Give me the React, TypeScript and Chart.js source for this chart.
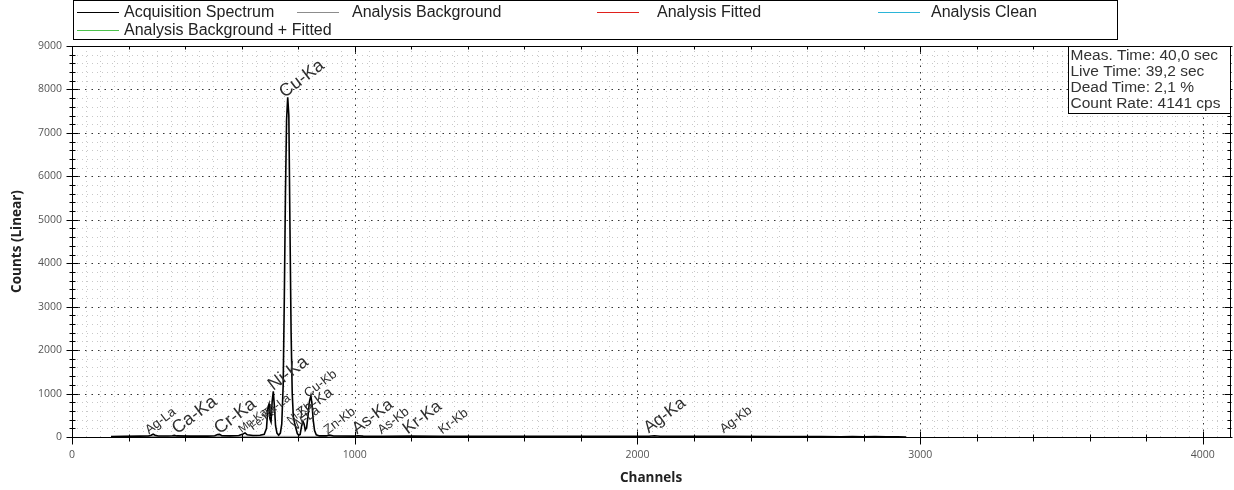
import React, { useEffect, useRef } from 'react';
import { Chart, registerables } from 'chart.js';

Chart.register(...registerables);

// ---- data ----
const spectrumChannels = [
  138, 180, 240, 270, 280, 287, 294, 305, 340, 355, 362, 370, 420, 480, 505, 515, 522, 530,
  560, 590, 605, 612, 620, 640, 665, 680, 688, 693, 697, 700, 704, 708, 712, 716, 720, 725,
  731, 737, 742, 747, 751, 755, 759, 763, 767, 771, 775, 779, 783, 787, 792, 797, 802, 807,
  812, 817, 821, 825, 830, 835, 840, 845, 849, 853, 858, 864, 875, 900, 908, 915, 925, 1000,
  1012, 1030, 1100, 1200, 1300, 1500, 1800, 2040, 2060, 2080, 2300, 2500, 2650, 2720, 2760,
  2800, 2840, 2880, 2920, 2950,
];
const spectrumCounts = [
  12, 18, 20, 22, 40, 65, 40, 22, 22, 30, 38, 25, 20, 20, 28, 55, 60, 30,
  25, 35, 70, 95, 50, 35, 40, 60, 200, 680, 760, 420, 350, 820, 1050, 700, 260, 90,
  40, 90, 300, 1200, 3200, 5600, 7300, 7820, 7400, 4800, 2400, 1000, 450, 330, 200, 80, 40, 60,
  250, 360, 300, 160, 220, 500, 820, 950, 760, 400, 150, 50, 25, 25, 45, 40, 22, 20,
  28, 20, 18, 20, 16, 15, 14, 18, 30, 18, 14, 12, 10, 6, 10,
  4, 8, 3, 6, 0,
];
const backgroundChannels = [138, 400, 700, 900, 1500, 2200, 2900];
const backgroundCounts = [10, 14, 16, 12, 9, 6, 3];

const peakNames = [
  'Ag-La', 'Ca-Ka', 'Cr-Ka', 'Mn-Ka', 'Fe-Kb', 'Ta-La', 'Ni-Ka', 'Cu-Ka', 'Ni-Kb', 'W-La',
  'Zn-Ka', 'Cu-Kb', 'Zn-Kb', 'As-Ka', 'As-Kb', 'Kr-Ka', 'Kr-Kb', 'Ag-Ka', 'Ag-Kb',
];
const peakChannels = [
  272, 372, 522, 600, 640, 690, 712, 752, 772, 792,
  810, 835, 905, 1008, 1095, 1188, 1310, 2040, 2305,
];
const peakLabelCounts = [
  60, 60, 60, 90, 150, 450, 1060, 7800, 300, 150,
  420, 900, 60, 60, 60, 60, 60, 80, 80,
];
const peakFontSizes = [
  13, 18, 18, 11, 11, 12, 18, 18, 11, 13,
  15, 13, 13, 17, 13, 17, 13, 17, 13,
];

const xTickValues = [0, 1000, 2000, 3000, 4000];
const yTickValues = [0, 1000, 2000, 3000, 4000, 5000, 6000, 7000, 8000, 9000];

const infoLines = ['Meas. Time: 40,0 sec', 'Live Time: 39,2 sec', 'Dead Time: 2,1 %', 'Count Rate: 4141 cps'];

const seriesLabels = [
  'Acquisition Spectrum',
  'Analysis Background',
  'Analysis Fitted',
  'Analysis Clean',
  'Analysis Background + Fitted',
];
const seriesColors = ['#000000', '#8c8c8c', '#e0201c', '#2bb5d8', '#4cc24c'];

const toPoints = (xs: number[], ys: number[]) => xs.map((x, i) => ({ x, y: ys[i] }));

const seg = (ctx: CanvasRenderingContext2D, x1: number, y1: number, x2: number, y2: number) => {
  ctx.beginPath();
  ctx.moveTo(x1, y1);
  ctx.lineTo(x2, y2);
  ctx.stroke();
};

const overlayPlugin = {
  id: 'overlay',
  beforeDatasetsDraw(chart: any) {
    const { ctx, chartArea: a, scales } = chart;
    const xs = scales.x;
    const ys = scales.y;
    ctx.save();
    ctx.lineWidth = 1;
    // minor grid
    ctx.strokeStyle = '#c8c8c8';
    ctx.setLineDash([1, 4]);
    for (let v = 50; v < 4096; v += 50) {
      if (v % 1000 === 0) continue;
      const px = Math.round(xs.getPixelForValue(v)) + 0.5;
      seg(ctx, px, a.top, px, a.bottom);
    }
    for (let v = 200; v < 9000; v += 200) {
      if (v % 1000 === 0) continue;
      const py = Math.round(ys.getPixelForValue(v)) + 0.5;
      seg(ctx, a.left, py, a.right, py);
    }
    // major grid
    ctx.strokeStyle = '#333';
    ctx.setLineDash([1.5, 5]);
    for (const v of xTickValues) {
      if (v === 0) continue;
      const px = Math.round(xs.getPixelForValue(v)) + 0.5;
      seg(ctx, px, a.top, px, a.bottom);
    }
    for (const v of yTickValues) {
      if (v === 0) continue;
      const py = Math.round(ys.getPixelForValue(v)) + 0.5;
      seg(ctx, a.left, py, a.right, py);
    }
    ctx.restore();
  },
  afterDatasetsDraw(chart: any) {
    const { ctx, chartArea: a, scales } = chart;
    const xs = scales.x;
    const ys = scales.y;
    ctx.save();
    ctx.setLineDash([]);
    ctx.strokeStyle = '#000';
    ctx.lineWidth = 1;
    // frame
    ctx.strokeRect(Math.round(a.left) + 0.5, Math.round(a.top) + 0.5, Math.round(a.right - a.left), Math.round(a.bottom - a.top));
    // x ticks (bottom + top)
    for (let v = 0; v <= 4096; v += 200) {
      const major = v % 1000 === 0;
      const px = Math.round(xs.getPixelForValue(v)) + 0.5;
      const b = Math.round(a.bottom) + 0.5;
      const t = Math.round(a.top) + 0.5;
      seg(ctx, px, b - (major ? 6 : 3), px, b + (major ? 7 : 4));
      seg(ctx, px, t, px, t + (major ? 6 : 3));
    }
    // y ticks (left + right)
    for (let v = 0; v <= 9000; v += 200) {
      const major = v % 1000 === 0;
      const py = Math.round(ys.getPixelForValue(v)) + 0.5;
      const l = Math.round(a.left) + 0.5;
      const r = Math.round(a.right) + 0.5;
      seg(ctx, l - (major ? 6 : 3), py, l + (major ? 6 : 3), py);
      seg(ctx, r - (major ? 6 : 3), py, r + (major ? 2 : 1), py);
    }
    // peak labels
    ctx.fillStyle = '#2e2e2e';
    ctx.textAlign = 'left';
    ctx.textBaseline = 'alphabetic';
    peakNames.forEach((name, i) => {
      const px = xs.getPixelForValue(peakChannels[i]);
      const py = ys.getPixelForValue(peakLabelCounts[i]);
      ctx.save();
      ctx.translate(px, py);
      ctx.rotate((-37 * Math.PI) / 180);
      ctx.font = `${peakFontSizes[i]}px "Liberation Sans", Arial, sans-serif`;
      ctx.fillText(name, 0, 0);
      ctx.restore();
    });
    // info box
    const bx = 1068.5;
    const by = Math.round(a.top) + 0.5;
    const bw = Math.round(a.right) - 1068;
    const bh = 67;
    ctx.fillStyle = '#ffffff';
    ctx.fillRect(bx, by, bw, bh);
    ctx.strokeStyle = '#000';
    ctx.strokeRect(bx, by, bw, bh);
    ctx.fillStyle = '#333';
    ctx.font = '15.5px "Liberation Sans", Arial, sans-serif';
    ctx.textBaseline = 'middle';
    infoLines.forEach((t, i) => ctx.fillText(t, bx + 2, by + 9 + i * 16));
    // axis titles
    ctx.fillStyle = '#222';
    ctx.font = 'bold 13.5px "Open Sans", sans-serif';
    ctx.textAlign = 'center';
    ctx.fillText('Channels', (a.left + a.right) / 2, 478);
    ctx.save();
    ctx.translate(17, (a.top + a.bottom) / 2);
    ctx.rotate(-Math.PI / 2);
    ctx.fillText('Counts (Linear)', 0, 0);
    ctx.restore();
    // legend
    ctx.strokeStyle = '#000';
    ctx.strokeRect(73.5, 0.5, 1044, 39);
    const slots = [
      { lx: 77, tx: 124, y: 12 },
      { lx: 297, tx: 352, y: 12 },
      { lx: 597, tx: 657, y: 12 },
      { lx: 878, tx: 931, y: 12 },
      { lx: 77, tx: 124, y: 30 },
    ];
    ctx.textAlign = 'left';
    ctx.font = '16px "Liberation Sans", Arial, sans-serif';
    chart.data.datasets.forEach((ds: any, i: number) => {
      const s = slots[i];
      ctx.strokeStyle = ds.borderColor;
      ctx.lineWidth = 1;
      seg(ctx, s.lx, s.y + 0.5, s.lx + 42, s.y + 0.5);
      ctx.fillStyle = '#222';
      ctx.fillText(ds.label, s.tx, s.y + 1);
    });
    ctx.restore();
  },
};

export default function App() {
  const canvasRef = useRef<HTMLCanvasElement | null>(null);

  useEffect(() => {
    document.body.style.margin = '0';
    const canvas = canvasRef.current;
    if (!canvas) return;
    const datasets = [
      { data: toPoints(spectrumChannels, spectrumCounts), borderWidth: 1.6 },
      { data: toPoints(backgroundChannels, backgroundCounts), borderWidth: 1 },
      { data: [], borderWidth: 1 },
      { data: [], borderWidth: 1 },
      { data: [], borderWidth: 1 },
    ].map((d, i) => ({
      ...d,
      label: seriesLabels[i],
      borderColor: seriesColors[i],
      backgroundColor: seriesColors[i],
      pointRadius: 0,
      tension: 0,
      fill: false,
    }));

    const chart = new Chart(canvas, {
      type: 'line',
      data: { datasets },
      plugins: [overlayPlugin],
      options: {
        animation: false,
        responsive: false,
        devicePixelRatio: 1,
        layout: { padding: { left: 0, right: 4, top: 46, bottom: 0 } },
        plugins: { legend: { display: false }, tooltip: { enabled: false } },
        scales: {
          x: {
            type: 'linear',
            min: 0,
            max: 4096,
            afterBuildTicks: (s: any) => {
              s.ticks = xTickValues.map((v) => ({ value: v }));
            },
            afterFit: (s: any) => {
              s.height = 53;
            },
            grid: { display: false, drawTicks: false },
            border: { display: false },
            ticks: {
              autoSkip: false,
              maxRotation: 0,
              padding: 12,
              color: '#555',
              font: { family: '"Open Sans", sans-serif', size: 10.5 },
              callback: (v: any) => String(v),
            },
          },
          y: {
            type: 'linear',
            min: 0,
            max: 9000,
            afterBuildTicks: (s: any) => {
              s.ticks = yTickValues.map((v) => ({ value: v }));
            },
            afterFit: (s: any) => {
              s.width = 72;
            },
            grid: { display: false, drawTicks: false },
            border: { display: false },
            ticks: {
              autoSkip: false,
              padding: 10,
              color: '#555',
              font: { family: '"Open Sans", sans-serif', size: 10.5 },
              callback: (v: any) => String(v),
            },
          },
        },
      },
    });
    return () => chart.destroy();
  }, []);

  return (
    <div style={{ width: 1234, height: 490, background: '#fff' }}>
      <canvas ref={canvasRef} width={1234} height={490} />
    </div>
  );
}
